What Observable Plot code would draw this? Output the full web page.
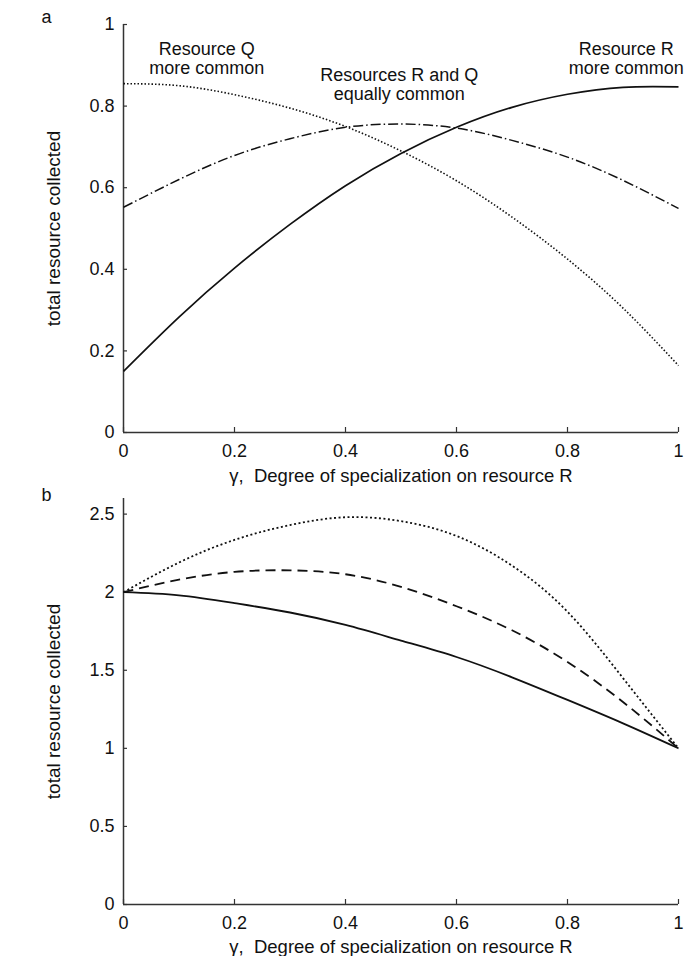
<!DOCTYPE html>
<html>
<head>
<meta charset="utf-8">
<script src="https://cdn.jsdelivr.net/npm/d3@7"></script>
<script src="https://cdn.jsdelivr.net/npm/@observablehq/plot@0.6"></script>
<style>
  html, body { margin: 0; padding: 0; background: #fff; }
  #chart { width: 690px; height: 956px; font-family: "Liberation Sans", Arial, Helvetica, sans-serif; }
  #chart svg { display: block; }
</style>
</head>
<body>
<div id="chart"></div>
<script>
// ---- data ----
const gamma = [0, 0.1, 0.2, 0.3, 0.4, 0.5, 0.6, 0.7, 0.8, 0.9, 1];

// panel a
const aResourceRMore = [0.15, 0.283, 0.403, 0.51, 0.605, 0.684, 0.748, 0.797, 0.829, 0.846, 0.847];
const aEqual         = [0.552, 0.62, 0.679, 0.72, 0.748, 0.756, 0.746, 0.716, 0.675, 0.618, 0.549];
const aResourceQMore = [0.855, 0.85, 0.828, 0.795, 0.75, 0.69, 0.617, 0.528, 0.425, 0.305, 0.164];

// panel b
const bSolid  = [2.0, 1.98, 1.93, 1.87, 1.79, 1.69, 1.585, 1.455, 1.31, 1.16, 1.0];
const bDashed = [2.0, 2.08, 2.13, 2.14, 2.115, 2.034, 1.91, 1.756, 1.553, 1.297, 1.0];
const bDotted = [2.0, 2.19, 2.335, 2.43, 2.48, 2.455, 2.36, 2.17, 1.875, 1.45, 1.0];

const xTicks = [0, 0.2, 0.4, 0.6, 0.8, 1];
const xTickLabels = ["0", "0.2", "0.4", "0.6", "0.8", "1"];
const aYTicks = [0, 0.2, 0.4, 0.6, 0.8, 1];
const aYTickLabels = ["0", "0.2", "0.4", "0.6", "0.8", "1"];
const bYTicks = [0, 0.5, 1, 1.5, 2, 2.5];
const bYTickLabels = ["0", "0.5", "1", "1.5", "2", "2.5"];

const xTitle = "\u03b3,\u00a0 Degree of specialization on resource R";
const yTitle = "total resource collected";

const annotLabels = ["Resource Q\nmore common", "Resources R and Q\nequally common", "Resource R\nmore common"];
const annotX = [0.15, 0.497, 0.906];
const annotY = [0.916, 0.852, 0.916];

// ---- drawing ----
const INK = "#111";
const FONT = "\"Liberation Sans\", Arial, Helvetica, sans-serif";
const W = 690, ML = 123, MR = 12;
const innerW = W - ML - MR;

function panel({letter, series, yDomain, yTicks, yTickLabels, height, marginTop, marginBottom, letterDy, titleDy, annotations}) {
  const innerH = height - marginTop - marginBottom;
  const marks = [
    // axis lines
    Plot.ruleX([0], {stroke: "#333", strokeWidth: 1.5}),
    Plot.ruleY([yDomain[0]], {stroke: "#333", strokeWidth: 1.5}),
    // inward ticks
    Plot.tickX(xTicks, {x: d => d, insetTop: innerH - 5, stroke: "#333", strokeWidth: 1.2}),
    Plot.tickY(yTicks, {y: d => d, insetRight: innerW - 4, stroke: "#333", strokeWidth: 1.2}),
    // tick labels
    Plot.axisX(xTicks, {tickSize: 0, tickPadding: 12, tickFormat: d => xTickLabels[xTicks.indexOf(d)], fontSize: 18, label: null}),
    Plot.axisY(yTicks, {tickSize: 0, tickPadding: 9, tickFormat: d => yTickLabels[yTicks.indexOf(d)], fontSize: 18, label: null}),
    // titles
    Plot.text([xTitle], {text: d => d, frameAnchor: "bottom", textAnchor: "middle", lineAnchor: "middle", dy: titleDy, fontSize: 18.5, fill: INK}),
    Plot.text([yTitle], {text: d => d, frameAnchor: "left", textAnchor: "middle", lineAnchor: "middle", rotate: -90, dx: -70, fontSize: 19, fill: INK}),
    Plot.text([letter], {text: d => d, frameAnchor: "top-left", dx: -82, dy: letterDy, fontSize: 18, fill: INK}),
  ];
  for (const s of series) {
    marks.push(Plot.line(gamma.map((g, i) => ({g, v: s.values[i]})), {
      x: "g", y: "v", curve: "natural", stroke: INK,
      strokeWidth: s.width, strokeDasharray: s.dash, strokeLinecap: "butt"
    }));
  }
  if (annotations) {
    marks.push(Plot.text(annotations, {x: "x", y: "y", text: "text", lineAnchor: "middle", lineHeight: 1.05, fontSize: 18, fill: INK}));
  }
  return Plot.plot({
    width: W, height, marginLeft: ML, marginRight: MR, marginTop, marginBottom,
    style: {fontFamily: FONT, color: INK, background: "#fff", overflow: "visible"},
    x: {domain: [0, 1]},
    y: {domain: yDomain},
    marks
  });
}

const chart = document.getElementById("chart");

chart.append(panel({
  letter: "a",
  series: [
    {values: aResourceRMore, dash: null, width: 1.7},
    {values: aEqual, dash: "10,3,1.5,3", width: 1.5},
    {values: aResourceQMore, dash: "1.5,2", width: 1.6}
  ],
  yDomain: [0, 1], yTicks: aYTicks, yTickLabels: aYTickLabels,
  height: 478, marginTop: 24, marginBottom: 46, letterDy: -14, titleDy: 44,
  annotations: annotLabels.map((t, i) => ({text: t, x: annotX[i], y: annotY[i]}))
}));

chart.append(panel({
  letter: "b",
  series: [
    {values: bSolid, dash: null, width: 1.8},
    {values: bDashed, dash: "10,6", width: 1.8},
    {values: bDotted, dash: "2,2.5", width: 1.8}
  ],
  yDomain: [0, 2.6], yTicks: bYTicks, yTickLabels: bYTickLabels,
  height: 478, marginTop: 20, marginBottom: 52, letterDy: -10, titleDy: 43,
  annotations: null
}));
</script>
</body>
</html>
